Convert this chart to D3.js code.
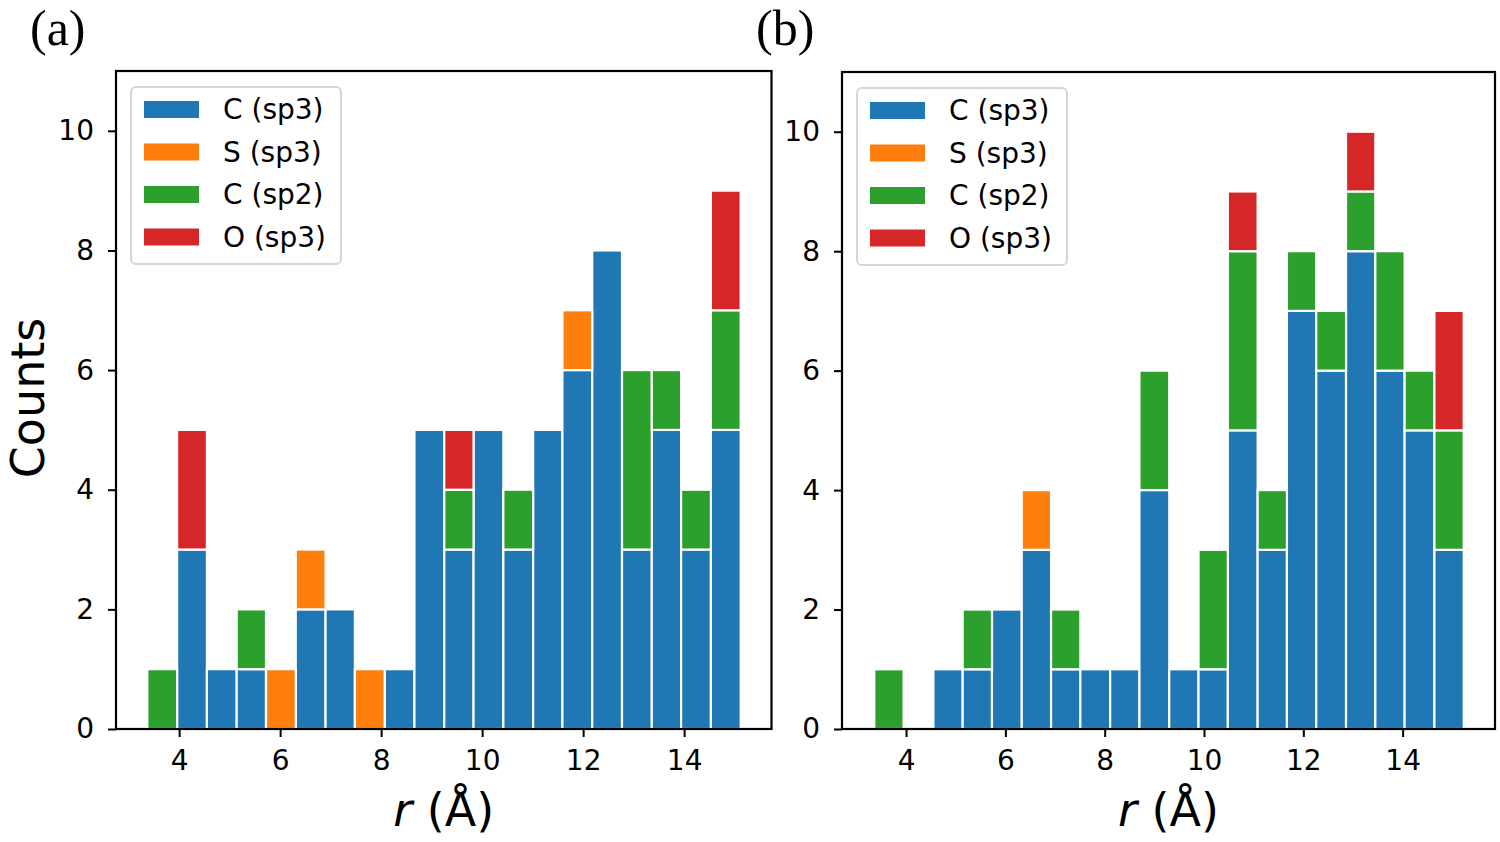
<!DOCTYPE html>
<html>
<head>
<meta charset="utf-8">
<script src="https://cdn.jsdelivr.net/npm/d3@7"></script>
<style>
  body { margin: 0; background: #fff; }
  text { font-family: "DejaVu Sans", sans-serif; fill: #000; }
</style>
</head>
<body>
<svg id="chart" width="1500" height="842"></svg>
<script>
// species, stacked bottom -> top
const species = ['C (sp3)', 'S (sp3)', 'C (sp2)', 'O (sp3)']
const colors = ['#1f77b4', '#ff7f0e', '#2ca02c', '#d62728']

// panel (a): histogram bin edges (Å) and counts per species
const edgesA = [3.37, 3.96, 4.55, 5.14, 5.72, 6.31, 6.90, 7.48, 8.07, 8.66, 9.25,
                9.83, 10.42, 11.01, 11.59, 12.18, 12.77, 13.36, 13.94, 14.53, 15.12]
const cSp3A = [0, 3, 1, 1, 0, 2, 2, 0, 1, 5, 3, 5, 3, 5, 6, 8, 3, 5, 3, 5]
const sSp3A = [0, 0, 0, 0, 1, 1, 0, 1, 0, 0, 0, 0, 0, 0, 1, 0, 0, 0, 0, 0]
const cSp2A = [1, 0, 0, 1, 0, 0, 0, 0, 0, 0, 1, 0, 1, 0, 0, 0, 3, 1, 1, 2]
const oSp3A = [0, 2, 0, 0, 0, 0, 0, 0, 0, 0, 1, 0, 0, 0, 0, 0, 0, 0, 0, 2]

// panel (b)
const edgesB = [3.36, 3.95, 4.55, 5.14, 5.73, 6.33, 6.92, 7.51, 8.11, 8.70, 9.30,
                9.89, 10.48, 11.08, 11.67, 12.26, 12.86, 13.45, 14.04, 14.64, 15.23]
const cSp3B = [0, 0, 1, 1, 2, 3, 1, 1, 1, 4, 1, 1, 5, 3, 7, 6, 8, 6, 5, 3]
const sSp3B = [0, 0, 0, 0, 0, 1, 0, 0, 0, 0, 0, 0, 0, 0, 0, 0, 0, 0, 0, 0]
const cSp2B = [1, 0, 0, 1, 0, 0, 1, 0, 0, 2, 0, 2, 3, 1, 1, 1, 1, 2, 1, 2]
const oSp3B = [0, 0, 0, 0, 0, 0, 0, 0, 0, 0, 0, 0, 1, 0, 0, 0, 1, 0, 0, 2]

const xTicks = [4, 6, 8, 10, 12, 14]
const yTicks = [0, 2, 4, 6, 8, 10]

const svg = d3.select('#chart')

/**
 * draws one stacked histogram panel
 */
function drawPanel(opts) {
    const { left, right, top, bottom, xlim, ylim, edges, series, label, showYLabel } = opts

    const x = d3.scaleLinear().domain(xlim).range([left, right])
    const y = d3.scaleLinear().domain(ylim).range([bottom, top])

    const g = svg.append('g')

    // stack the species per bin
    const rows = edges.slice(0, -1).map((e, i) => {
        const row = { x0: e, x1: edges[i + 1] }
        species.forEach((s, k) => { row[s] = series[k][i] })
        return row
    })
    const stacked = d3.stack().keys(species)(rows)

    g.selectAll('.layer')
        .data(stacked)
        .enter()
        .append('g')
        .attr('fill', (d, k) => colors[k])
        .selectAll('rect')
        .data(d => d.filter(v => v[1] - v[0] > 0))
        .enter()
        .append('rect')
        .attr('x', d => x(d.data.x0))
        .attr('width', d => x(d.data.x1) - x(d.data.x0))
        .attr('y', d => y(d[1]))
        .attr('height', d => y(d[0]) - y(d[1]))
        .attr('stroke', '#fff')
        .attr('stroke-width', 2.2)

    // axes
    const xAxis = d3.axisBottom(x).tickValues(xTicks).tickSize(8).tickPadding(13)
    const yAxis = d3.axisLeft(y).tickValues(yTicks).tickSize(8).tickPadding(14)

    const gx = g.append('g').attr('transform', `translate(0,${bottom})`).call(xAxis)
    const gy = g.append('g').attr('transform', `translate(${left},0)`).call(yAxis)
    ;[gx, gy].forEach(a => {
        a.select('.domain').remove()
        a.selectAll('.tick line').attr('stroke', '#000').attr('stroke-width', 2)
        a.selectAll('.tick text')
            .style('font-family', '"DejaVu Sans", sans-serif')
            .style('font-size', '28px')
            .attr('fill', '#000')
    })

    // frame
    g.append('rect')
        .attr('x', left).attr('y', top)
        .attr('width', right - left).attr('height', bottom - top)
        .attr('fill', 'none').attr('stroke', '#000').attr('stroke-width', 2.2)

    // axis labels
    const xl = g.append('text')
        .attr('x', (left + right) / 2)
        .attr('y', 826)
        .attr('text-anchor', 'middle')
        .style('font-size', '46px')
    xl.append('tspan').style('font-style', 'italic').text('r')
    xl.append('tspan').text(' (Å)')

    if (showYLabel) {
        g.append('text')
            .attr('transform', `translate(44,${(top + bottom) / 2 - 2}) rotate(-90)`)
            .attr('text-anchor', 'middle')
            .style('font-size', '46px')
            .text('Counts')
    }

    // panel letter
    g.append('text')
        .attr('x', left - 86)
        .attr('y', 45)
        .style('font-family', '"Liberation Serif", serif')
        .style('font-size', '50px')
        .text(label)

    // legend
    const lx = left + 15, ly = top + 16
    const lg = g.append('g').attr('transform', `translate(${lx},${ly})`)
    lg.append('rect')
        .attr('width', 210).attr('height', 177)
        .attr('rx', 5).attr('ry', 5)
        .attr('fill', '#fff').attr('fill-opacity', 0.8)
        .attr('stroke', '#d6d6d6').attr('stroke-width', 2)
    species.forEach((s, k) => {
        const row = lg.append('g').attr('transform', `translate(0,${22 + k * 42.5})`)
        row.append('rect')
            .attr('x', 13).attr('y', -8)
            .attr('width', 55).attr('height', 17)
            .attr('fill', colors[k])
        row.append('text')
            .attr('x', 92).attr('y', 10)
            .style('font-size', '28px')
            .text(s)
    })
}

drawPanel({
    left: 116, right: 771.5, top: 71, bottom: 729,
    xlim: [2.75, 15.73], ylim: [0, 11],
    edges: edgesA, series: [cSp3A, sSp3A, cSp2A, oSp3A],
    label: '(a)', showYLabel: true
})

drawPanel({
    left: 842, right: 1495, top: 72, bottom: 729,
    xlim: [2.71, 15.86], ylim: [0, 11],
    edges: edgesB, series: [cSp3B, sSp3B, cSp2B, oSp3B],
    label: '(b)', showYLabel: false
})
</script>
</body>
</html>
